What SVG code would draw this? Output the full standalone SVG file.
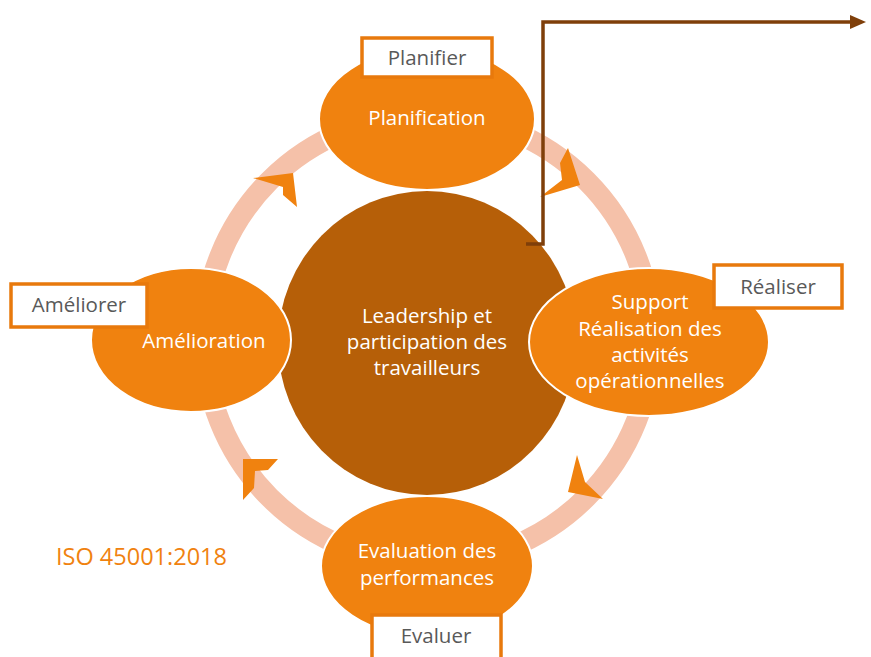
<svg xmlns="http://www.w3.org/2000/svg" width="871" height="657" viewBox="0 0 871 657">
<defs>
<style>
.ell{fill:#F0820F;stroke:#fff;stroke-width:2}
.chev{fill:#F0820F}
.wt{font-family:"Open Sans","Liberation Sans",sans-serif;font-size:20.5px;fill:#fff;text-anchor:middle}
.lb{fill:#fff;stroke:#E8790C;stroke-width:3.5}
.lt{font-family:"Open Sans","Liberation Sans",sans-serif;font-size:20.5px;fill:#595959;text-anchor:middle}
</style>
<marker id="ah" markerWidth="16" markerHeight="14" refX="10" refY="7" orient="auto" markerUnits="userSpaceOnUse">
<path d="M0,0 L16,7 L0,14 z" fill="#7F3F0A"/>
</marker>
</defs>
<rect width="871" height="657" fill="#fff"/>
<g id="ring">
<circle cx="428" cy="339" r="224" fill="none" stroke="#F5C1A9" stroke-width="21"/>
<polygon class="chev" points="253,178 293,173 297,207 283,195 283,187"/>
<polygon class="chev" points="568,148 580,185 540,197 562,180 560,163"/>
<polygon class="chev" points="577,455 585,482 603,499 568,492"/>
<polygon class="chev" points="243,459 278,459 268,470 255,471 254,488 243,500"/>
</g>
<g id="center">
<ellipse cx="427" cy="343" rx="149" ry="152" fill="#B65F08"/>
<text class="wt"><tspan x="427" y="323">Leadership et</tspan><tspan x="427" y="349">participation des</tspan><tspan x="427" y="375">travailleurs</tspan></text>
</g>
<g id="planification">
<ellipse class="ell" cx="427" cy="119" rx="108" ry="71"/>
<text class="wt" x="427" y="125">Planification</text>
</g>
<g id="amelioration">
<ellipse class="ell" cx="191" cy="340" rx="100" ry="72"/>
<text class="wt" x="204" y="348">Amélioration</text>
</g>
<g id="realisation">
<ellipse class="ell" cx="649" cy="342" rx="120" ry="74"/>
<text class="wt"><tspan x="650" y="309">Support</tspan><tspan x="650" y="336">Réalisation des</tspan><tspan x="650" y="362">activités</tspan><tspan x="650" y="388">opérationnelles</tspan></text>
</g>
<g id="evaluation">
<ellipse class="ell" cx="427" cy="566" rx="106" ry="70"/>
<text class="wt"><tspan x="427" y="558">Evaluation des</tspan><tspan x="427" y="585">performances</tspan></text>
</g>
<g id="connectors">
<polyline points="526,244 543,244 543,22 860,22" fill="none" stroke="#7F3F0A" stroke-width="3.5" marker-end="url(#ah)"/>
</g>
<g id="label-planifier">
<rect class="lb" x="362" y="38" width="130" height="39"/>
<text class="lt" x="427" y="65">Planifier</text>
</g>
<g id="label-ameliorer">
<rect class="lb" x="11" y="284" width="136" height="43"/>
<text class="lt" x="79" y="312">Améliorer</text>
</g>
<g id="label-realiser">
<rect class="lb" x="714" y="265" width="128" height="43"/>
<text class="lt" x="778" y="294">Réaliser</text>
</g>
<g id="label-evaluer">
<rect class="lb" x="372" y="615" width="129" height="44"/>
<text class="lt" x="436" y="643">Evaluer</text>
</g>
<text x="56" y="565" font-family="'Open Sans','Liberation Sans',sans-serif" font-size="23.5" fill="#F0820F">ISO 45001:2018</text>
</svg>
